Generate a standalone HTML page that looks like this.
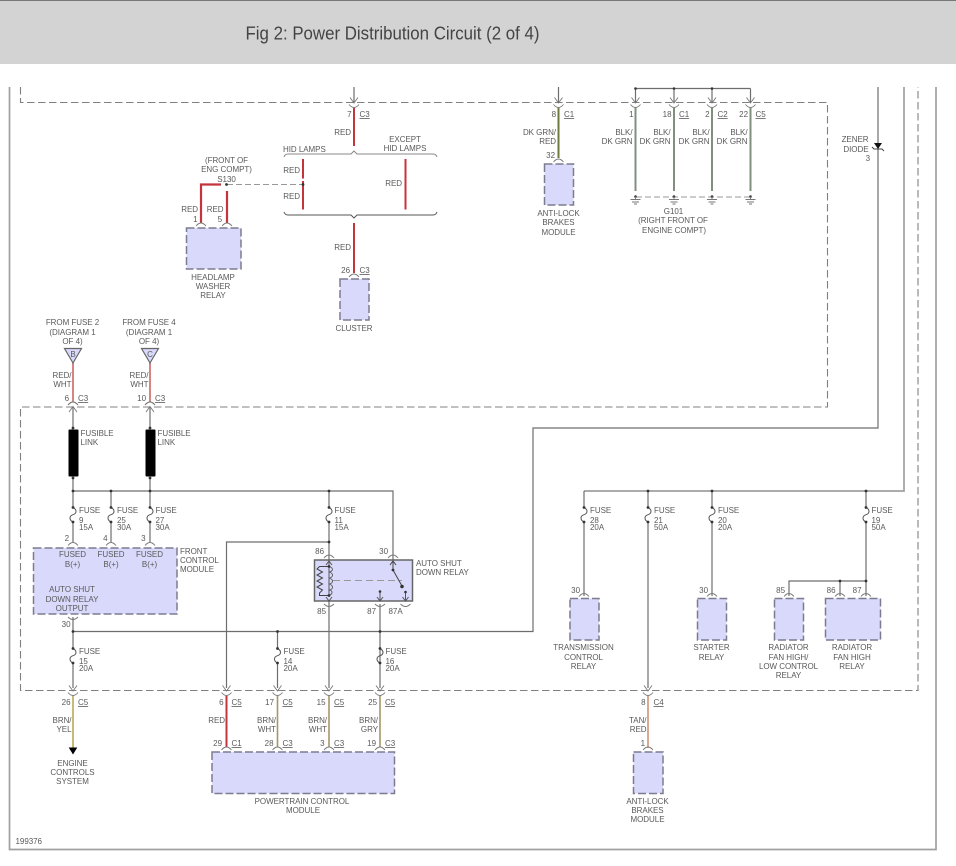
<!DOCTYPE html>
<html><head><meta charset="utf-8"><style>
html,body{margin:0;padding:0;background:#fff}
svg{display:block}
text{font-family:"Liberation Sans",sans-serif;font-size:8px;fill:#5a5a5a;letter-spacing:-.04px}
.e{text-anchor:end}.m{text-anchor:middle}.u{text-decoration:underline}
.w{fill:none;stroke:#6e6e6e;stroke-width:1.2}
.g{fill:none;stroke:#a0a0a0;stroke-width:1.7}
.d{fill:none;stroke:#808080;stroke-width:1.1;stroke-dasharray:7.5 3.5}
.b{fill:#d9d9fb;stroke:#7c7c90;stroke-width:1.5;stroke-dasharray:8 3}
.red{fill:none;stroke:#c4343c;stroke-width:2}
.sal{fill:none;stroke:#d98484;stroke-width:2}
.ol{fill:none;stroke:#6c7a3c;stroke-width:2}
.gn{fill:none;stroke:#7f917c;stroke-width:2}
.yl{fill:none;stroke:#c6bb78;stroke-width:2}
.br{fill:none;stroke:#a39768;stroke-width:1.6}
.tn{fill:none;stroke:#dba98f;stroke-width:2}
.n{fill:#333}
</style></head><body>
<svg width="956" height="866" viewBox="0 0 956 866" xmlns="http://www.w3.org/2000/svg">
<defs>
<g id="c"><path d="M-4,-5 L0,0.5 L4,-5" fill="none" stroke="#777" stroke-width="0.9"/><path d="M-5,2 Q0,8 5,2" fill="none" stroke="#777" stroke-width="0.9"/></g>
<path id="p" d="M-5,0 Q0,-6 5,0" fill="none" stroke="#777" stroke-width="0.9"/>
<path id="q" d="M-5,0 Q0,5 5,0" fill="none" stroke="#777" stroke-width="0.9"/>
<g id="f"><path d="M0,0 C4,2 4,6 0,7.2 C-4,8.5 -4,12.5 0,14.5" fill="none" stroke="#555" stroke-width="1"/><circle cx="0" cy="0" r="1.4" fill="#333"/><circle cx="0" cy="14.5" r="1.4" fill="#333"/></g>
<g id="gd"><circle cx="0" cy="0" r="1.3" fill="#333"/><path d="M0,0V3M-5,3H5M-3.5,5.5H3.5M-1.5,7.5H1.5" fill="none" stroke="#777" stroke-width="0.9"/></g>
</defs>

<rect x="0" y="0" width="956" height="64" fill="#d3d3d3"/>
<rect x="0" y="0" width="956" height="1" fill="#777"/>
<text x="245.5" y="39.5" textLength="294" lengthAdjust="spacingAndGlyphs" style="font-size:18px;fill:#444;letter-spacing:0">Fig 2: Power Distribution Circuit (2 of 4)</text>

<!-- frame -->
<path d="M9.5,87V849.5H936V87" class="g"/>
<!-- dashed -->
<path d="M20.5,87V102.5H827.5V407H20.5V690.5H918V87" class="d"/>
<!-- main wires -->
<path d="M878,87V428H533V631.5H73" class="w"/>
<path d="M904,87V491H584" class="g"/>
<path d="M73,491H393V560" class="w"/>
<path d="M584,491V507.5M584,522V596M648,491V507.5M648,522V688M712,491V507.5M712,522V596M866,491V507.5M866,522V596M789,596V581H866M840,581V596" class="w"/>
<path d="M73,407V429M73,477V507.5M73,522V542M111,491V507.5M111,522V542M150,407V429M150,477V507.5M150,522V542M329,491V507.5M329,522V560M329,542H226.5V688M329,601V688M380,604V688M277.5,631.5V648M277.5,663V688M380,631.5V648M73,617V648M73,663V688" class="w"/>
<path d="M354,87V102M558.5,87V102M635.5,88.5V102M674,88.5V102M712,88.5V102M750.5,88.5V102M635.5,88.5H750.5" class="w"/>
<circle cx="635.5" cy="88.5" r="1.3" class="n"/><circle cx="674" cy="88.5" r="1.3" class="n"/><circle cx="712" cy="88.5" r="1.3" class="n"/>

<!-- nodes -->
<g class="n"><circle cx="73" cy="491" r="1.4"/><circle cx="111" cy="491" r="1.4"/><circle cx="150" cy="491" r="1.4"/><circle cx="329" cy="491" r="1.4"/><circle cx="329" cy="542" r="1.4"/><circle cx="73" cy="631.5" r="1.4"/><circle cx="277.5" cy="631.5" r="1.4"/><circle cx="380" cy="631.5" r="1.4"/><circle cx="648" cy="491" r="1.4"/><circle cx="712" cy="491" r="1.4"/><circle cx="866" cy="491" r="1.4"/><circle cx="840" cy="581" r="1.4"/><circle cx="866" cy="581" r="1.4"/><circle cx="73" cy="428" r="1.4"/><circle cx="150" cy="428" r="1.4"/><circle cx="73" cy="478" r="1.4"/><circle cx="150" cy="478" r="1.4"/></g>

<!-- fuses -->
<use href="#f" x="73" y="507.5"/><use href="#f" x="111" y="507.5"/><use href="#f" x="150" y="507.5"/><use href="#f" x="329" y="507.5"/>
<use href="#f" x="584" y="507.5"/><use href="#f" x="648" y="507.5"/><use href="#f" x="712" y="507.5"/><use href="#f" x="866" y="507.5"/>
<use href="#f" x="73" y="648.5"/><use href="#f" x="277.5" y="648.5"/><use href="#f" x="380" y="648.5"/>

<!-- fusible links -->
<rect x="68.5" y="429.5" width="10" height="47" rx="1" fill="#000"/>
<rect x="145.5" y="429.5" width="10" height="47" rx="1" fill="#000"/>

<!-- colored wires -->
<path d="M354,108V146M354,223V273M303,159V178.5M303,181V209.5M405.5,159V209.5" class="red"/>
<path d="M227,191V223M201,223V184.5H221" class="red" style="stroke-width:2.2"/>
<path d="M558.5,108V158" class="ol"/>
<path d="M635.5,108V191M674,108V191M712,108V191M750.5,108V191" class="gn"/>
<path d="M73,363V402M150,363V402" class="sal"/>
<path d="M73,696V748" class="yl"/>
<path d="M226.5,696V747" class="red"/>
<path d="M277.5,696V747M329,696V747M380,696V747" class="br"/>
<path d="M648,696V748" class="tn"/>

<!-- brackets -->
<path d="M284,157 Q285,154 288,154H351L354,151L357,154H433Q436,154 437,157" fill="none" stroke="#888" stroke-width="1"/>
<path d="M284,212 Q285,215 288,215H351L354,218L357,215H433Q436,215 437,212" fill="none" stroke="#555" stroke-width="1"/>

<!-- S130 -->
<path d="M227,184.5H303" fill="none" stroke="#999" stroke-width="1" stroke-dasharray="6 3"/>
<circle cx="226.5" cy="184.5" r="1.4" class="n"/><circle cx="303" cy="184.5" r="1.4" class="n"/>

<!-- boxes -->
<rect x="186.5" y="228" width="54.5" height="41" class="b"/>
<rect x="340" y="279" width="29" height="41" class="b"/>
<rect x="544.5" y="164" width="29" height="41" class="b"/>
<rect x="33.5" y="548" width="143.5" height="66" class="b"/>
<rect x="570" y="598.5" width="29" height="41.5" class="b"/>
<rect x="697.5" y="598.5" width="29" height="41.5" class="b"/>
<rect x="774.5" y="598.5" width="29" height="41.5" class="b"/>
<rect x="825.5" y="598.5" width="55" height="41.5" class="b"/>
<rect x="212" y="752" width="182.5" height="41.5" class="b"/>
<rect x="633.5" y="752" width="29.5" height="41.5" class="b"/>

<!-- relay -->
<rect x="314.5" y="560" width="98" height="41" fill="#d9d9fb" stroke="#666" stroke-width="1.5"/>
<path d="M329,561V595M326,565L329,561L332,565M326,597L329,601L332,597" fill="none" stroke="#555" stroke-width="1"/>
<path d="M329,566.5H319.5L317,569L322.5,572L317,575L322.5,578L317,581L322.5,584L317,587L322.5,590L319.5,593V595.5H329" fill="none" stroke="#444" stroke-width="1"/>
<path d="M329,566.5C334,568 333,571 329.5,572C334,574 333,577 329.5,578C334,580 333,583 329.5,584C334,586 333,589 329.5,590C333,591 333,594 329,595.5" fill="none" stroke="#555" stroke-width="0.9"/>
<circle cx="329" cy="566.5" r="1.4" class="n"/><circle cx="329" cy="595.5" r="1.4" class="n"/>
<path d="M333,580.5H402" fill="none" stroke="#999" stroke-width="1" stroke-dasharray="7 4"/>
<path d="M393,561V570L402,586M390,565L393,561L396,565" fill="none" stroke="#444" stroke-width="1"/>
<path d="M405.5,592V600M402.5,597L405.5,601L408.5,597M380,591.5V600M377,597L380,601L383,597" fill="none" stroke="#555" stroke-width="1"/>
<circle cx="393" cy="570" r="1.4" class="n"/><circle cx="402" cy="586.5" r="1.8" class="n"/><circle cx="405.5" cy="592" r="1.3" class="n"/><circle cx="380" cy="591.5" r="1.3" class="n"/>

<!-- connectors at dashed -->
<use href="#c" x="354" y="102.5"/><use href="#c" x="558.5" y="102.5"/><use href="#c" x="635.5" y="102.5"/><use href="#c" x="674" y="102.5"/><use href="#c" x="712" y="102.5"/><use href="#c" x="750.5" y="102.5"/>
<g transform="translate(73,407) scale(1,-1)"><use href="#c"/></g>
<g transform="translate(150,407) scale(1,-1)"><use href="#c"/></g>
<use href="#c" x="73" y="690.5"/><use href="#c" x="226.5" y="690.5"/><use href="#c" x="277.5" y="690.5"/><use href="#c" x="329" y="690.5"/><use href="#c" x="380" y="690.5"/><use href="#c" x="648" y="690.5"/>

<!-- pin arcs -->
<use href="#p" x="201" y="226"/><use href="#p" x="227" y="226"/><use href="#p" x="354" y="277"/><use href="#p" x="558.5" y="162"/>
<use href="#p" x="73" y="545.5"/><use href="#p" x="111" y="545.5"/><use href="#p" x="150" y="545.5"/>
<use href="#p" x="329" y="558"/><use href="#p" x="393" y="558"/>
<use href="#q" x="329" y="604"/><use href="#q" x="380" y="604"/><use href="#q" x="405.5" y="604"/><use href="#q" x="73" y="617"/>
<use href="#p" x="584" y="596.5"/><use href="#p" x="712" y="596.5"/><use href="#p" x="789" y="596.5"/><use href="#p" x="840" y="596.5"/><use href="#p" x="866" y="596.5"/>
<use href="#p" x="73" y="405"/><use href="#p" x="150" y="405"/>
<use href="#p" x="226.5" y="750"/><use href="#p" x="277.5" y="750"/><use href="#p" x="329" y="750"/><use href="#p" x="380" y="750"/><use href="#p" x="648" y="750"/>

<!-- ground -->
<path d="M636,197H751" fill="none" stroke="#999" stroke-width="1" stroke-dasharray="6 3"/>
<use href="#gd" x="635.5" y="196.5"/><use href="#gd" x="674" y="196.5"/><use href="#gd" x="712" y="196.5"/><use href="#gd" x="750.5" y="196.5"/>

<!-- triangles -->
<path d="M64.5,348.5H81.5L73,363Z" fill="#d9d9fb" stroke="#666" stroke-width="1.2"/>
<path d="M141.5,348.5H158.5L150,363Z" fill="#d9d9fb" stroke="#666" stroke-width="1.2"/>
<path d="M68.7,747.5H77.3L73,754.5Z" fill="#000"/>

<!-- diode -->
<path d="M874,143H882L878,149Z" fill="#111"/>
<path d="M872,147L874,149H882L884,151" fill="none" stroke="#444" stroke-width="1"/>

<!-- text -->
<text class="e" x="351.5" y="117">7</text><text class="u" x="359.5" y="117">C3</text>
<text class="e" x="351" y="135">RED</text>
<text x="283" y="152">HID LAMPS</text>
<text class="m" x="405" y="142">EXCEPT</text><text class="m" x="405" y="151">HID LAMPS</text>
<text class="m" x="226.5" y="163">(FRONT OF</text><text class="m" x="226.5" y="172">ENG COMPT)</text><text class="m" x="226.5" y="182">S130</text>
<text class="e" x="300" y="173">RED</text><text class="e" x="300" y="199">RED</text><text class="e" x="402" y="186">RED</text>
<text class="e" x="198" y="212">RED</text><text class="e" x="223.5" y="212">RED</text>
<text class="e" x="197.5" y="222">1</text><text class="e" x="222" y="222">5</text>
<text class="m" x="213" y="280">HEADLAMP</text><text class="m" x="213" y="289">WASHER</text><text class="m" x="213" y="298">RELAY</text>
<text class="e" x="351" y="250">RED</text>
<text class="e" x="350" y="273">26</text><text class="u" x="359.5" y="273">C3</text>
<text class="m" x="354" y="331">CLUSTER</text>

<text class="e" x="556" y="117">8</text><text class="u" x="564" y="117">C1</text>
<text class="e" x="556" y="135">DK GRN/</text><text class="e" x="556" y="144">RED</text>
<text class="e" x="555" y="158">32</text>
<text class="m" x="558.5" y="216">ANTI-LOCK</text><text class="m" x="558.5" y="225">BRAKES</text><text class="m" x="558.5" y="235">MODULE</text>

<text class="e" x="633.5" y="117">1</text>
<text class="e" x="671.5" y="117">18</text><text class="u" x="679" y="117">C1</text>
<text class="e" x="709.5" y="117">2</text><text class="u" x="717.5" y="117">C2</text>
<text class="e" x="748" y="117">22</text><text class="u" x="755.5" y="117">C5</text>
<text class="e" x="632.5" y="135">BLK/</text><text class="e" x="632.5" y="144">DK GRN</text>
<text class="e" x="670.5" y="135">BLK/</text><text class="e" x="670.5" y="144">DK GRN</text>
<text class="e" x="709.5" y="135">BLK/</text><text class="e" x="709.5" y="144">DK GRN</text>
<text class="e" x="747.5" y="135">BLK/</text><text class="e" x="747.5" y="144">DK GRN</text>
<text class="m" x="673.5" y="214">G101</text><text class="m" x="673" y="223">(RIGHT FRONT OF</text><text class="m" x="674" y="233">ENGINE COMPT)</text>
<text class="e" x="868.5" y="142">ZENER</text><text class="e" x="868.5" y="152">DIODE</text><text class="e" x="870" y="161">3</text>

<text class="m" x="72.5" y="325">FROM FUSE 2</text><text class="m" x="72.5" y="335">(DIAGRAM 1</text><text class="m" x="72.5" y="344">OF 4)</text>
<text class="m" x="149" y="325">FROM FUSE 4</text><text class="m" x="149" y="335">(DIAGRAM 1</text><text class="m" x="149" y="344">OF 4)</text>
<text class="m" x="73" y="357">B</text><text class="m" x="150" y="357">C</text>
<text class="e" x="71.5" y="378">RED/</text><text class="e" x="71.5" y="387">WHT</text>
<text class="e" x="148.5" y="378">RED/</text><text class="e" x="148.5" y="387">WHT</text>
<text class="e" x="69" y="401">6</text><text class="u" x="78" y="401">C3</text>
<text class="e" x="146" y="401">10</text><text class="u" x="155" y="401">C3</text>
<text x="80.5" y="436">FUSIBLE</text><text x="80.5" y="445">LINK</text>
<text x="157.5" y="436">FUSIBLE</text><text x="157.5" y="445">LINK</text>

<text x="79" y="513">FUSE</text><text x="79" y="523">9</text><text x="79" y="530">15A</text>
<text x="117" y="513">FUSE</text><text x="117" y="523">25</text><text x="117" y="530">30A</text>
<text x="155.5" y="513">FUSE</text><text x="155.5" y="523">27</text><text x="155.5" y="530">30A</text>
<text x="334.5" y="513">FUSE</text><text x="334.5" y="523">11</text><text x="334.5" y="530">15A</text>
<text x="590" y="513">FUSE</text><text x="590" y="523">28</text><text x="590" y="530">20A</text>
<text x="654" y="513">FUSE</text><text x="654" y="523">21</text><text x="654" y="530">50A</text>
<text x="718" y="513">FUSE</text><text x="718" y="523">20</text><text x="718" y="530">20A</text>
<text x="871.5" y="513">FUSE</text><text x="871.5" y="523">19</text><text x="871.5" y="530">50A</text>
<text x="79" y="654">FUSE</text><text x="79" y="664">15</text><text x="79" y="671">20A</text>
<text x="283.5" y="654">FUSE</text><text x="283.5" y="664">14</text><text x="283.5" y="671">20A</text>
<text x="385.5" y="654">FUSE</text><text x="385.5" y="664">16</text><text x="385.5" y="671">20A</text>

<text class="e" x="69" y="541">2</text><text class="e" x="107.5" y="541">4</text><text class="e" x="145.5" y="541">3</text>
<text class="m" x="72.5" y="557">FUSED</text><text class="m" x="72.5" y="567">B(+)</text>
<text class="m" x="111" y="557">FUSED</text><text class="m" x="111" y="567">B(+)</text>
<text class="m" x="149.5" y="557">FUSED</text><text class="m" x="149.5" y="567">B(+)</text>
<text class="m" x="72" y="592">AUTO SHUT</text><text class="m" x="72" y="602">DOWN RELAY</text><text class="m" x="72" y="611">OUTPUT</text>
<text x="180" y="554">FRONT</text><text x="180" y="563">CONTROL</text><text x="180" y="572">MODULE</text>
<text class="e" x="70.5" y="627">30</text>

<text class="e" x="324" y="554">86</text><text class="e" x="388" y="554">30</text>
<text x="416" y="566">AUTO SHUT</text><text x="416" y="575">DOWN RELAY</text>
<text class="e" x="326" y="614">85</text><text class="e" x="376" y="614">87</text><text x="388.5" y="614">87A</text>

<text class="e" x="580" y="593">30</text><text class="e" x="708" y="593">30</text>
<text class="e" x="785" y="593">85</text><text class="e" x="835.5" y="593">86</text><text class="e" x="861.5" y="593">87</text>
<text class="m" x="583.5" y="650">TRANSMISSION</text><text class="m" x="583.5" y="660">CONTROL</text><text class="m" x="583.5" y="669">RELAY</text>
<text class="m" x="711.5" y="650">STARTER</text><text class="m" x="711.5" y="660">RELAY</text>
<text class="m" x="788.5" y="650">RADIATOR</text><text class="m" x="788.5" y="660">FAN HIGH/</text><text class="m" x="788.5" y="669">LOW CONTROL</text><text class="m" x="788.5" y="678">RELAY</text>
<text class="m" x="852" y="650">RADIATOR</text><text class="m" x="852" y="660">FAN HIGH</text><text class="m" x="852" y="669">RELAY</text>

<text class="e" x="70.5" y="705">26</text><text class="u" x="78" y="705">C5</text>
<text class="e" x="71.5" y="723">BRN/</text><text class="e" x="71.5" y="732">YEL</text>
<text class="m" x="72.5" y="766">ENGINE</text><text class="m" x="72.5" y="775">CONTROLS</text><text class="m" x="72.5" y="784">SYSTEM</text>

<text class="e" x="223.5" y="705">6</text><text class="u" x="231.5" y="705">C5</text>
<text class="e" x="225" y="723">RED</text>
<text class="e" x="222" y="746">29</text><text class="u" x="231.5" y="746">C1</text>
<text class="e" x="274" y="705">17</text><text class="u" x="282.5" y="705">C5</text>
<text class="e" x="276" y="723">BRN/</text><text class="e" x="276" y="732">WHT</text>
<text class="e" x="273.5" y="746">28</text><text class="u" x="282.5" y="746">C3</text>
<text class="e" x="325.5" y="705">15</text><text class="u" x="334" y="705">C5</text>
<text class="e" x="327" y="723">BRN/</text><text class="e" x="327" y="732">WHT</text>
<text class="e" x="324.5" y="746">3</text><text class="u" x="334" y="746">C3</text>
<text class="e" x="377" y="705">25</text><text class="u" x="385" y="705">C5</text>
<text class="e" x="378" y="723">BRN/</text><text class="e" x="378" y="732">GRY</text>
<text class="e" x="376" y="746">19</text><text class="u" x="385" y="746">C3</text>
<text class="m" x="302" y="804">POWERTRAIN CONTROL</text><text class="m" x="303" y="813">MODULE</text>

<text class="e" x="645.5" y="705">8</text><text class="u" x="653.5" y="705">C4</text>
<text class="e" x="646.5" y="723">TAN/</text><text class="e" x="646.5" y="732">RED</text>
<text class="e" x="645" y="746">1</text>
<text class="m" x="647.5" y="804">ANTI-LOCK</text><text class="m" x="647.5" y="813">BRAKES</text><text class="m" x="647.5" y="822">MODULE</text>

<text x="15.5" y="844">199376</text>
</svg>
</body></html>
